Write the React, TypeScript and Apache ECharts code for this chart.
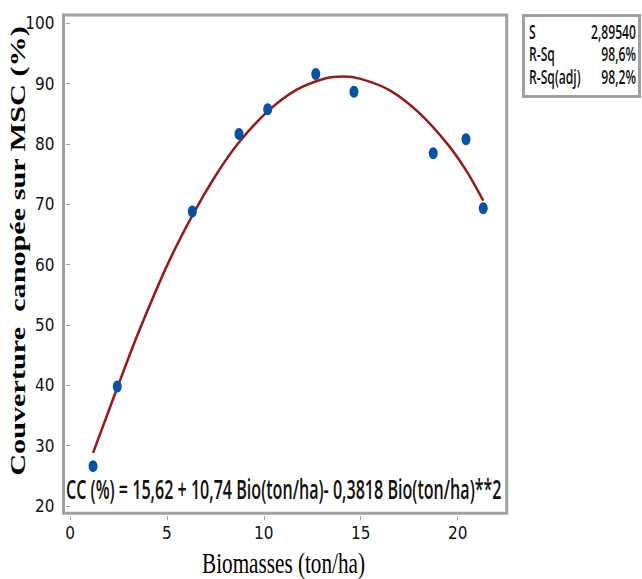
import React, { useEffect, useRef } from "react";
import * as echarts from "echarts";

// Observed data points (biomass t/ha vs canopy cover %)
const biomass = [1.19, 2.44, 6.31, 8.72, 10.2, 12.68, 14.65, 18.74, 20.43, 21.32];
const cover = [26.6, 39.8, 68.8, 81.65, 85.75, 91.6, 88.66, 78.46, 80.78, 69.34];

// Fitted quadratic curve
const fitX = [1.19, 2.44, 3.5, 5, 6.3, 7.5, 8.7, 10.2, 11.7, 13.2, 14.1, 15, 16.5, 18, 19.5, 20.5, 21.32];
const fitY = [28.8, 39.6, 48.5, 59.8, 68.1, 74.7, 80.2, 85.4, 89.0, 90.9, 91.2, 90.8, 88.9, 85.2, 79.9, 75.3, 70.6];

const xTicks = [0, 5, 10, 15, 20];
const yTicks = [20, 30, 40, 50, 60, 70, 80, 90, 100];

const statLabels = ["S", "R-Sq", "R-Sq(adj)"];
const statValues = ["2,89540", "98,6%", "98,2%"];

const equation = "CC (%) = 15,62 + 10,74 Bio(ton/ha)- 0,3818 Bio(ton/ha)**2";
const xTitle = "Biomasses (ton/ha)";
const yTitle = "Couverture  canopée sur MSC (%)";

const SANS = "'Open Sans', 'Noto Sans', sans-serif";
const SERIF = "'Liberation Serif', 'DejaVu Serif', serif";
const NARROW = "'Liberation Sans Narrow', 'DejaVu Sans Condensed', sans-serif";

function measure(text: string, font: string): number {
  const ctx = document.createElement("canvas").getContext("2d");
  if (!ctx) return text.length * 8;
  ctx.font = font;
  return ctx.measureText(text).width;
}

export default function App() {
  const ref = useRef<HTMLDivElement>(null);

  useEffect(() => {
    if (!ref.current) return;
    const chart = echarts.init(ref.current, undefined, { renderer: "svg" });

    const gray = "#a0a0a0";
    const stretch = 1.45;

    const eqSize = 19;
    const eqW = measure(equation, `600 ${eqSize}px ${SANS}`);
    const eqSX = 436 / eqW;

    const stSize = 13;
    const stW = measure(statValues[0], `600 ${stSize}px ${SANS}`);
    const stSX = 45 / stW;

    const xtSize = 21;
    const xtW = measure(xTitle, `${xtSize}px ${SERIF}`);
    const xtSX = 163 / xtW;

    const ytSize = 21;
    const ytW = measure(yTitle, `bold ${ytSize}px ${SERIF}`);
    const ytSX = 450 / ytW;

    const rowsY = [32, 54, 77];

    const graphics: any[] = [
      {
        type: "text",
        x: 66,
        y: 489,
        scaleX: eqSX,
        scaleY: stretch,
        z: 10,
        style: {
          text: equation,
          fontFamily: SANS,
          fontWeight: 600,
          fontSize: eqSize,
          fill: "#111",
          align: "left",
          verticalAlign: "middle",
        },
      },
      {
        type: "rect",
        shape: { x: 523.5, y: 15.5, width: 116, height: 81 },
        style: { fill: "#fff", stroke: gray, lineWidth: 3 },
      },
      {
        type: "text",
        x: 283.5,
        y: 563,
        scaleX: xtSX,
        scaleY: 1.4,
        style: {
          text: xTitle,
          fontFamily: SERIF,
          fontSize: xtSize,
          fill: "#000",
          align: "center",
          verticalAlign: "middle",
        },
      },
      {
        type: "text",
        x: 18,
        y: 251,
        rotation: Math.PI / 2,
        scaleX: ytSX,
        scaleY: 1,
        style: {
          text: yTitle,
          fontFamily: SERIF,
          fontWeight: "bold",
          fontSize: ytSize,
          fill: "#000",
          align: "center",
          verticalAlign: "middle",
        },
      },
    ];

    statLabels.forEach((lab, i) => {
      graphics.push({
        type: "text",
        x: 529,
        y: rowsY[i],
        scaleX: stSX,
        scaleY: 1.5,
        style: {
          text: lab,
          fontFamily: SANS,
          fontWeight: 600,
          fontSize: stSize,
          fill: "#111",
          align: "left",
          verticalAlign: "middle",
        },
      });
      graphics.push({
        type: "text",
        x: 636,
        y: rowsY[i],
        scaleX: stSX,
        scaleY: 1.5,
        style: {
          text: statValues[i],
          fontFamily: SANS,
          fontWeight: 600,
          fontSize: stSize,
          fill: "#111",
          align: "right",
          verticalAlign: "middle",
        },
      });
    });

    chart.setOption({
      animation: false,
      backgroundColor: "#fff",
      grid: {
        left: 63.5,
        top: 15,
        width: 443.2,
        height: 498.3,
        show: true,
        borderColor: gray,
        borderWidth: 3,
        backgroundColor: "#fff",
      },
      xAxis: {
        type: "value",
        min: -0.335,
        max: 22.53,
        offset: 3,
        axisLine: { show: false },
        splitLine: { show: false },
        axisTick: { show: true, customValues: xTicks, length: 4, lineStyle: { color: gray, width: 1 } },
        axisLabel: {
          customValues: xTicks,
          margin: 8,
          fontFamily: NARROW,
          fontSize: 17,
          color: "#111",
        },
      },
      yAxis: {
        type: "value",
        min: 18.79,
        max: 101.38,
        offset: 2,
        axisLine: { show: false },
        splitLine: { show: false },
        axisTick: { show: true, customValues: yTicks, length: 4, lineStyle: { color: gray, width: 1 } },
        axisLabel: {
          customValues: yTicks,
          margin: 7,
          fontFamily: NARROW,
          fontSize: 17,
          color: "#111",
        },
      },
      graphic: graphics,
      series: [
        {
          type: "line",
          data: fitX.map((x, i) => [x, fitY[i]]),
          smooth: 0.3,
          showSymbol: false,
          lineStyle: { color: "#951b1b", width: 2.5 },
          z: 2,
        },
        {
          type: "scatter",
          data: biomass.map((x, i) => [x, cover[i]]),
          symbol: "circle",
          symbolSize: [9, 12],
          itemStyle: { color: "#0653a5", opacity: 1 },
          z: 3,
        },
      ],
    });

    return () => chart.dispose();
  }, []);

  return (
    <div
      ref={ref}
      style={{ position: "absolute", left: 0, top: 0, width: 642, height: 579 }}
    />
  );
}
